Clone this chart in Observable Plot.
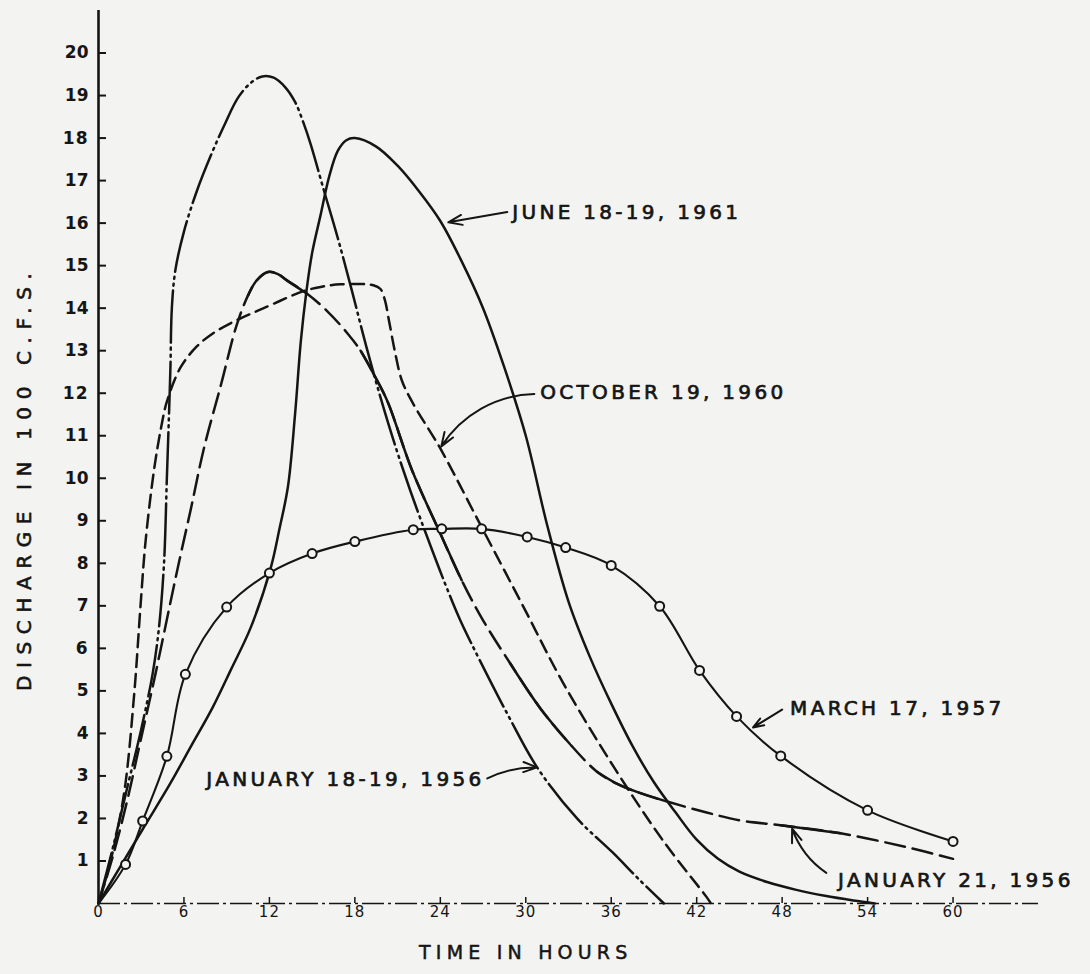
<!DOCTYPE html>
<html>
<head>
<meta charset="utf-8">
<script src="https://cdn.jsdelivr.net/npm/d3@7"></script>
<script src="https://cdn.jsdelivr.net/npm/@observablehq/plot@0.6"></script>
<style>
  html, body { margin: 0; padding: 0; background: #f3f3f1; }
  #chart svg { display: block; }
</style>
</head>
<body>
<div id="chart"></div>
<script>
// ---------- data: [hours, discharge in 100 c.f.s.] ----------
const xTickValues = [0, 6, 12, 18, 24, 30, 36, 42, 48, 54, 60];
const yTickValues = [1, 2, 3, 4, 5, 6, 7, 8, 9, 10, 11, 12, 13, 14, 15, 16, 17, 18, 19, 20];

const june1961 = [
  [0,0],[1.5,0.85],[3.2,1.8],[5,2.8],[6.5,3.7],[8,4.6],[9.3,5.5],[10.7,6.5],[12.1,7.9],
  [12.7,8.8],[13.3,9.8],[13.8,11.5],[14.2,13.2],[14.6,14.4],[15.0,15.3],[15.6,16.2],
  [16.2,17.1],[16.8,17.7],[17.4,17.95],[18.0,18.0],[19.5,17.8],[21,17.35],[22.5,16.75],
  [24,16.05],[25.5,15.1],[27,14.0],[28.5,12.6],[30,11.0],[31.5,8.9],[33,7.1],[34.5,5.8],
  [36,4.7],[37.5,3.7],[39,2.85],[40.5,2.15],[42,1.5],[43.5,1.05],[45,0.75],[47,0.5],
  [49,0.32],[51,0.18],[53,0.07],[54.5,0]
];

const october1960 = [
  [0,0],[0.85,1.0],[1.8,2.6],[2.5,4.9],[2.95,7.0],[3.3,8.5],[3.9,10.2],[4.4,11.2],[4.8,11.8],
  [5.75,12.6],[6.9,13.1],[8,13.4],[9.3,13.65],[11.6,14.0],[14.4,14.4],[15.6,14.5],[17,14.56],
  [19.3,14.54],[19.8,14.45],[20.1,14.2],[20.4,13.7],[20.8,13.0],[21.3,12.3],[22.1,11.75],
  [24,10.7],[26.9,8.85],[29.8,7.0],[32.6,5.2],[36.2,3.2],[39.7,1.45],[42.7,0.15],[43,0]
];

const january1819_1956 = [
  [0,0],[1,1.3],[2,2.7],[3,4.1],[3.8,5.4],[4.25,6.5],[4.6,8.0],[4.8,10],[4.95,11.5],
  [5.05,12.6],[5.15,14.0],[5.4,14.9],[6.0,15.8],[6.9,16.75],[7.9,17.6],[8.9,18.35],[9.8,18.95],
  [10.7,19.3],[11.5,19.45],[12.3,19.42],[13.1,19.2],[13.8,18.85],[14.4,18.35],[14.9,17.85],
  [15.8,16.8],[16.8,15.65],[17.8,14.4],[18.8,13.1],[19.8,11.9],[20.8,10.8],[21.9,9.7],
  [23.1,8.6],[24.3,7.55],[25.4,6.66],[26.8,5.7],[28.8,4.4],[30.8,3.2],[33.6,2.0],[36.1,1.2],
  [38,0.55],[39.7,0]
];

const january21_1956 = [
  [0,0],[1,1.1],[2,2.4],[3,3.9],[4,5.4],[5,7.0],[5.7,8.1],[6.5,9.3],[7.4,10.7],[8.6,12.2],
  [9.7,13.6],[10.5,14.3],[11.1,14.65],[11.9,14.85],[12.6,14.8],[13.2,14.66],[14.6,14.35],
  [16,13.95],[17.5,13.4],[18.4,13.0],[19.4,12.4],[20.3,11.8],[22,10.2],[24,8.7],[25.5,7.6],
  [27,6.66],[28.9,5.65],[31,4.6],[33.1,3.75],[35,3.1],[36.5,2.8],[38,2.6],[39.7,2.42],
  [42.7,2.14],[45.1,1.95],[47.9,1.84],[52.1,1.65],[56.8,1.32],[60,1.05]
];

const march1957 = [
  [0,0],[1.9,0.92],[3.1,1.94],[4.8,3.46],[6.1,5.39],[9,6.97],[12,7.77],[15,8.23],[18,8.51],
  [22.1,8.79],[24.1,8.81],[26.9,8.81],[30.1,8.62],[32.8,8.37],[36,7.95],[39.4,6.99],
  [42.2,5.48],[44.8,4.4],[47.9,3.47],[54,2.19],[60,1.46]
];

// annotation labels: text, label anchor [h, q], arrow tail [h, q], arrow tip on curve [h, q]
const labelTexts = ["JUNE 18-19, 1961", "OCTOBER 19, 1960", "MARCH 17, 1957", "JANUARY 21, 1956", "JANUARY 18-19, 1956"];
const labelAt    = [[29.05,16.24],[31.02,12.02],[48.56,4.59],[51.93,0.54],[27.1,2.92]];
const arrowTail  = [[28.7,16.26],[30.6,11.98],[48.0,4.56],[51.1,0.72],[27.3,2.94]];
const arrowTip   = [[24.56,16.02],[24.07,10.75],[45.96,4.14],[48.7,1.76],[30.8,3.2]];

const xTitle = "TIME IN HOURS";
const yTitle = "DISCHARGE IN 100 C.F.S.";

// ---------- drawing ----------
const ink = "#151515", bg = "#f3f3f1";
const W = 1090, H = 974;
const M = {top: 10, right: 52, bottom: 71, left: 98};
const innerW = W - M.left - M.right, innerH = H - M.top - M.bottom;

const base = {x: d => d[0], y: d => d[1], curve: "catmull-rom", stroke: ink, strokeWidth: 2.5};

// solid stretches of the otherwise dashed Jan 21 curve (style only)
const jan21SolidHours = [[10.2,14.6],[18.4,26.8],[28.9,33.1],[35,39.7],[47.9,52.1]];

const labels = labelTexts.map((t, i) => ({text: t, h: labelAt[i][0], q: labelAt[i][1], anchor: i === 4 ? "end" : "start"}));
const arrows = labelTexts.map((t, i) => ({key: t, x1: arrowTail[i][0], y1: arrowTail[i][1], x2: arrowTip[i][0], y2: arrowTip[i][1]}));
const bends = {"JUNE 18-19, 1961": 0, "OCTOBER 19, 1960": -28, "MARCH 17, 1957": 0, "JANUARY 21, 1956": 18, "JANUARY 18-19, 1956": 14};

const marks = [
  // horizontal axis (dash-dot) and ticks
  Plot.ruleY([0], {x1: 0, x2: 66, stroke: ink, strokeWidth: 1.6, strokeDasharray: "22,4,3,4"}),
  Plot.tickX(xTickValues, {x: d => d, insetTop: innerH - 6, stroke: ink, strokeWidth: 1.5}),
  Plot.text(xTickValues, {x: d => d, frameAnchor: "bottom", dy: 13, fontSize: 15, fill: ink}),
  // vertical axis
  Plot.ruleX([0], {stroke: ink, strokeWidth: 2.6}),
  Plot.tickY(yTickValues, {y: d => d, insetRight: innerW - 8, stroke: ink, strokeWidth: 2}),
  Plot.text(yTickValues, {y: d => d, frameAnchor: "left", dx: -10, textAnchor: "end", fontSize: 17, fontWeight: "bold", fill: ink}),
  // axis titles
  Plot.text([xTitle], {x: d3.mean(xTickValues), frameAnchor: "bottom", dy: 55, textAnchor: "middle", fontSize: 19, fill: ink, stroke: ink, strokeWidth: 0.5}),
  Plot.text([yTitle], {y: d3.mean([0, yTickValues[yTickValues.length - 1]]), frameAnchor: "left", dx: -74, textAnchor: "middle", rotate: -90, fontSize: 20, fill: ink, stroke: ink, strokeWidth: 0.6}),

  // curves
  Plot.line(june1961, {...base}),
  Plot.line(october1960, {...base, strokeDasharray: "13,7"}),
  Plot.line(january1819_1956, {...base, strokeDasharray: "52,5,2,5,2,5"}),
  Plot.line(january21_1956, {...base, strokeDasharray: "20,8"}),
  ...jan21SolidHours.map(([a, b]) => Plot.line(january21_1956.filter(d => d[0] >= a && d[0] <= b), {...base})),
  Plot.line(march1957, {...base, strokeWidth: 2.1}),
  Plot.dot(march1957.filter(d => d[0] > 0), {x: d => d[0], y: d => d[1], r: 4.5, fill: bg, stroke: ink, strokeWidth: 2}),

  // annotation arrows and labels
  ...arrows.map(a => Plot.arrow([a], {x1: "x1", y1: "y1", x2: "x2", y2: "y2", bend: bends[a.key], stroke: ink, strokeWidth: 2, headLength: 11, headAngle: 40})),
  Plot.text(labels.filter(d => d.anchor === "start"), {x: "h", y: "q", text: "text", textAnchor: "start", fontSize: 20, fill: ink, stroke: ink, strokeWidth: 0.7}),
  Plot.text(labels.filter(d => d.anchor === "end"), {x: "h", y: "q", text: "text", textAnchor: "end", fontSize: 20, fill: ink, stroke: ink, strokeWidth: 0.7})
];

const chart = Plot.plot({
  width: W, height: H,
  marginTop: M.top, marginRight: M.right, marginBottom: M.bottom, marginLeft: M.left,
  x: {domain: [0, 66], axis: null},
  y: {domain: [0, 21], axis: null},
  style: {background: bg, fontFamily: "DejaVu Sans", color: ink, overflow: "visible"},
  marks
});

// widen the lettering like the drafted original
d3.select(chart).selectAll("text").each(function () {
  const t = this.textContent;
  if (labelTexts.includes(t)) this.style.letterSpacing = "3.3px";
  else if (t === xTitle) this.style.letterSpacing = "5.2px";
  else if (t === yTitle) this.style.letterSpacing = "7.6px";
  else if (xTickValues.includes(+t) && this.getAttribute("text-anchor") !== "end") this.style.letterSpacing = "1px";
});

document.getElementById("chart").appendChild(chart);
</script>
</body>
</html>
